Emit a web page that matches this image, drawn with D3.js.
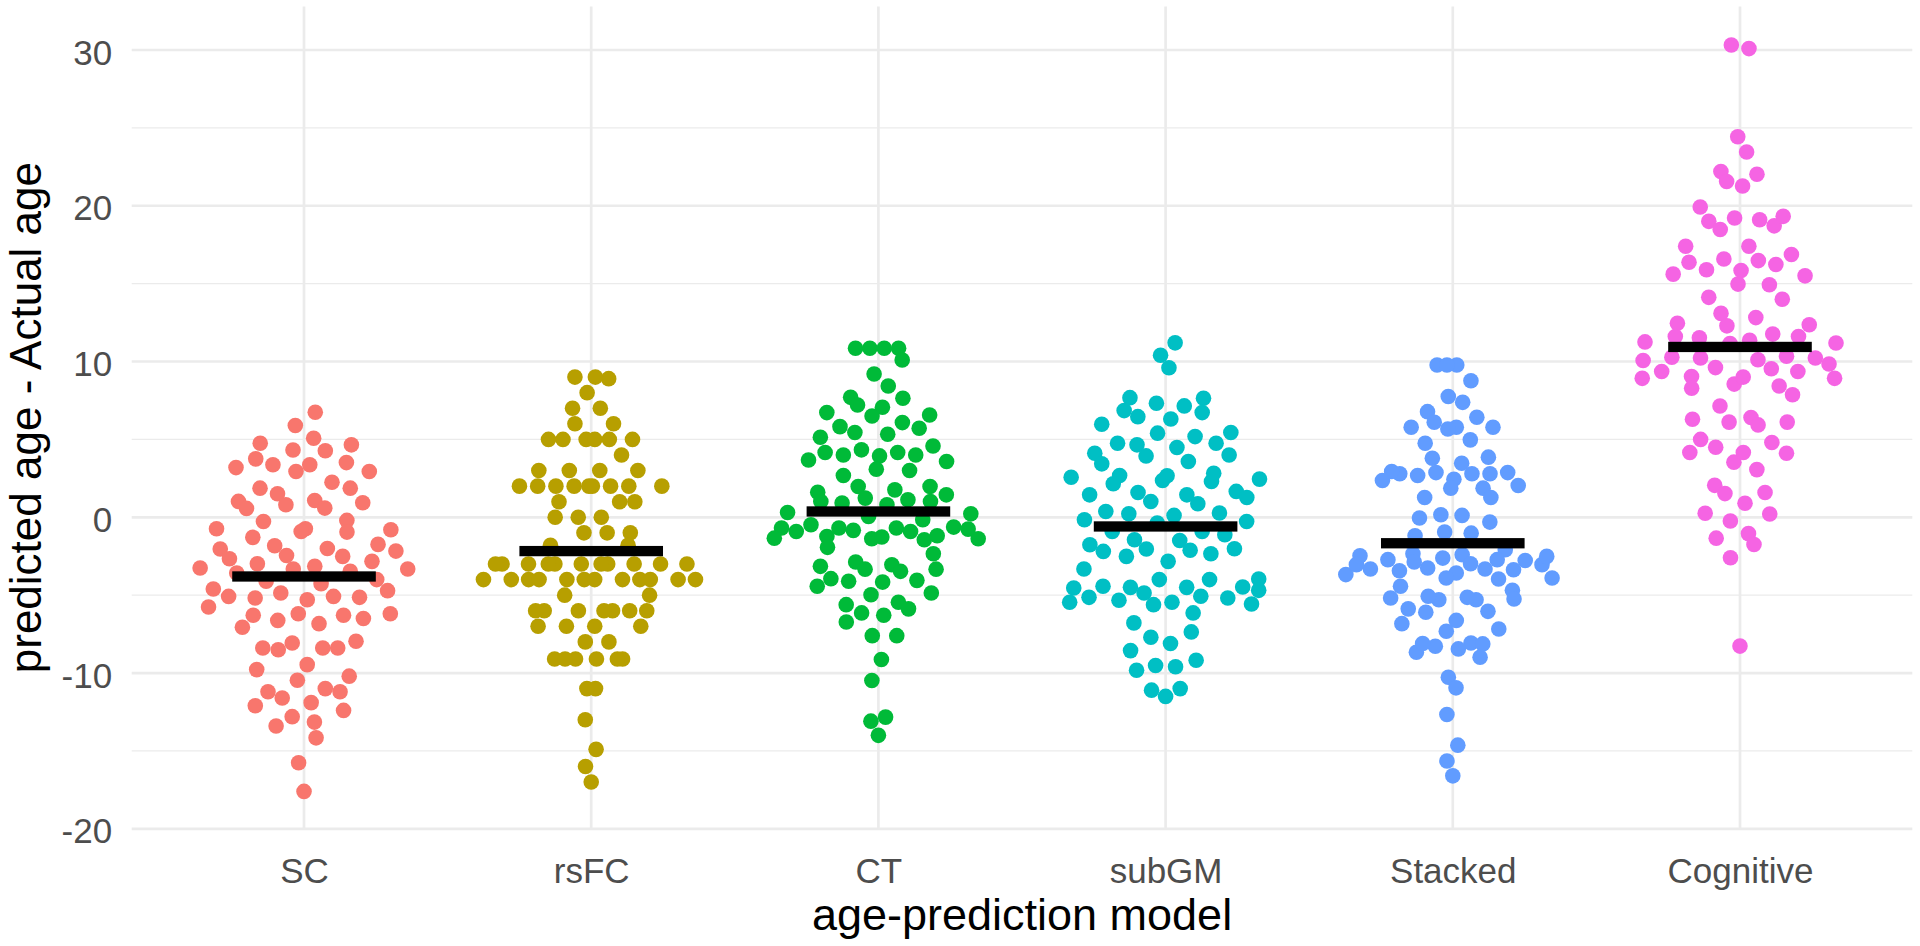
<!DOCTYPE html>
<html><head><meta charset="utf-8">
<script src="https://cdn.jsdelivr.net/npm/d3@7"></script>
<style>body{margin:0;background:#fff}svg{display:block}text{font-family:"Liberation Sans",Arial,sans-serif}</style>
</head><body><svg id="c" width="1920" height="946"></svg>
<script>
const categories = ["SC","rsFC","CT","subGM","Stacked","Cognitive"];
const colors = ["#F8766D","#B79F00","#00BA38","#00BFC4","#619CFF","#F564E3"];

const scValues = [6.74,5.89,5.07,4.75,4.65,4.32,4.27,3.75,3.37,3.37,3.51,3.19,2.94,2.94,2.25,1.87,1.87,1.51,1.02,0.80,1.08,0.93,0.59,0.57,-0.27,-0.20,-0.95,-0.74,-0.74,-0.91,-0.80,-1.29,-1.74,-2.04,-1.83,-2.0,-2.17,-2.66,-2.45,-2.51,-2.83,-2.98,-3.26,-3.32,-3.15,-3.32,-3.58,-3.47,-4.11,-4.26,-4.0,-4.6,-4.71,-5.08,-5.18,-4.86,-5.29,-5.08,-5.14,-5.76,-6.19,-6.29,-6.29,-6.5,-6.19,-6.62,-6.83,-7.06,-8.07,-8.39,-8.5,-8.39,-8.39,-7.96,-9.46,-9.78,-10.2,-10.46,-11.2,-11.0,-11.2,-11.6,-12.1,-11.9,-12.4,-12.8,-13.4,-13.15,-14.16,-15.76,-17.6];
const rsfcValues = [8.9,9.0,9.0,8.0,7.0,7.0,6.0,6.0,5.0,5.0,5.0,5.0,5.0,5.0,4.0,3.0,3.0,3.0,3.0,2.0,2.0,2.0,2.0,2.0,2.0,2.0,2.0,2.0,1.0,1.0,1.0,0.0,0.0,0.0,-1.0,-1.0,-1.0,-1.8,-1.8,-3.0,-3.0,-3.0,-3.0,-3.0,-3.0,-3.0,-3.0,-3.0,-3.0,-3.0,-4.0,-4.0,-4.0,-4.0,-4.0,-4.0,-4.0,-4.0,-4.0,-4.0,-4.0,-4.0,-5.0,-5.0,-6.0,-6.0,-6.0,-6.0,-6.0,-6.0,-6.0,-7.0,-7.0,-7.0,-7.0,-8.0,-8.0,-9.1,-9.1,-9.1,-9.1,-9.1,-9.1,-11.0,-11.0,-13.0,-14.9,-16.0,-17.0];
const ctValues = [10.85,10.85,10.85,10.85,10.1,9.2,8.43,7.7,7.64,7.21,7.06,6.72,6.5,6.57,6.08,5.82,5.44,5.72,5.33,5.14,4.58,4.16,4.0,4.33,3.94,4.16,4.0,3.68,3.58,3.09,3.0,2.68,1.98,1.23,1.76,1.98,1.61,1.44,1.01,0.91,0.8,1.12,1.01,0.31,0.22,0.05,-0.16,-0.69,-1.34,-0.91,-0.48,-1.23,-0.69,-0.91,-1.38,-1.27,-0.69,-0.84,-1.44,-1.19,-0.63,-0.76,-1.38,-1.93,-2.34,-3.15,-2.87,-3.33,-3.05,-3.47,-3.33,-3.94,-4.43,-4.16,-4.11,-4.05,-4.97,-4.86,-5.61,-5.46,-5.88,-6.14,-6.72,-6.29,-7.6,-7.6,-9.13,-10.48,-12.83,-13.09,-14.0];
const subgmValues = [11.2,10.4,9.6,7.64,7.68,7.32,7.15,6.85,6.46,6.72,6.31,5.97,5.4,5.18,5.44,4.75,4.65,4.48,4.75,4.11,3.94,3.58,4.0,3.43,2.57,2.68,2.15,2.36,2.66,2.83,2.3,2.45,1.44,1.59,1.01,1.44,0.87,1.66,1.27,0.37,0.22,0.12,0.27,-0.16,-0.27,-0.37,-0.91,-0.91,-1.12,-1.76,-2.19,-1.44,-2.04,-1.49,-2.12,-2.34,-2.02,-2.51,-2.83,-3.32,-4.0,-4.0,-4.54,-5.46,-5.14,-4.43,-5.33,-4.48,-4.86,-5.61,-5.46,-4.5,-5.07,-5.18,-4.5,-3.96,-4.69,-5.57,-6.14,-6.78,-7.36,-7.7,-8.1,-8.56,-9.18,-9.82,-9.52,-9.6,-11.1,-11.5,-11.0];
const stackedValues = [9.78,9.78,9.78,8.77,7.75,7.38,6.78,6.42,5.78,5.78,5.78,6.1,5.67,4.97,4.75,3.86,3.47,3.79,2.87,2.79,2.04,2.44,2.79,2.94,2.79,2.68,2.87,2.36,1.87,1.87,1.27,1.27,0.12,-0.05,0.16,-0.31,-1.02,-1.19,-0.95,-2.08,-2.4,-3.04,-3.68,-3.32,-2.77,-3.37,-2.72,-3.26,-2.62,-3.58,-3.9,-2.47,-2.98,-3.32,-2.72,-2.34,-3.43,-2.87,-3.96,-3.04,-2.51,-3.9,-4.43,-4.69,-5.29,-5.18,-5.14,-5.29,-5.07,-5.24,-5.88,-6.1,-6.04,-6.83,-6.62,-7.32,-7.17,-8.07,-8.67,-8.28,-8.45,-8.13,-8.1,-8.99,-10.27,-10.95,-12.66,-14.63,-15.65,-16.6];
const cognitiveValues = [30.32,30.09,24.43,23.45,22.2,21.56,22.02,21.27,19.92,19.0,18.48,19.21,19.1,18.71,19.32,17.4,16.37,15.61,15.89,16.58,17.4,16.48,16.23,16.87,15.5,15.84,14.97,14.93,14.12,14.0,13.09,12.29,12.82,12.45,11.6,11.53,11.15,11.37,11.76,11.6,12.36,11.26,11.19,10.07,8.92,9.36,10.28,10.23,9.61,10.11,9.54,10.34,9.36,10.23,9.84,8.92,9.04,8.28,8.55,9.0,8.43,7.87,7.14,6.29,6.11,6.41,5.93,6.11,5.0,4.16,4.5,3.54,4.16,4.8,4.11,3.06,2.05,1.52,1.59,0.9,0.26,-0.24,0.21,-1.34,-1.05,-1.75,-2.6,-8.27];

const yMajorTicks = [-20,-10,0,10,20,30];
const yMinorTicks = [-15,-5,5,15,25];
const xTitle = "age-prediction model";
const yTitle = "predicted age - Actual age";

const seriesValues = [scValues, rsfcValues, ctValues, subgmValues, stackedValues, cognitiveValues];

const panel = {left:131.7, right:1912.3, top:6.4, bottom:828.8};
const x = d3.scalePoint().domain(categories).range([panel.left, panel.right]).padding(0.6);
const y = d3.scaleLinear().domain([-20,30]).range([828.8,50]);
const step = x.step();

const svg = d3.select("#c");
svg.append("rect").attr("width",1920).attr("height",946).attr("fill","#fff");

const grid = svg.append("g");
grid.selectAll(".mi").data(yMinorTicks).join("line")
  .attr("x1",panel.left).attr("x2",panel.right)
  .attr("y1",d=>y(d)).attr("y2",d=>y(d))
  .attr("stroke","#EBEBEB").attr("stroke-width",1.4);
grid.selectAll(".ma").data(yMajorTicks).join("line")
  .attr("x1",panel.left).attr("x2",panel.right)
  .attr("y1",d=>y(d)).attr("y2",d=>y(d))
  .attr("stroke","#EBEBEB").attr("stroke-width",2.7);
grid.selectAll(".vx").data(categories).join("line")
  .attr("x1",d=>x(d)).attr("x2",d=>x(d))
  .attr("y1",panel.top).attr("y2",panel.bottom)
  .attr("stroke","#EBEBEB").attr("stroke-width",2.7);

function vdc(n){ let q=0, bk=0.5; while(n>0){ q += (n%2)*bk; n=Math.floor(n/2); bk/=2; } return q; }
function quasiOffsets(vals, width){
  const n = vals.length;
  const sorted = vals.slice().sort(d3.ascending);
  const sd = d3.deviation(vals);
  const iqr = d3.quantileSorted(sorted,0.75) - d3.quantileSorted(sorted,0.25);
  const lo = Math.min(sd, iqr/1.34);
  const bw = 0.9*lo*Math.pow(n,-0.2)*0.5;
  const kde = t => d3.sum(vals, v => Math.exp(-0.5*((t-v)/bw)**2));
  const g0 = sorted[0]-3*bw, g1 = sorted[n-1]+3*bw;
  const maxD = d3.max(d3.range(512), i => kde(g0 + i*(g1-g0)/511));
  const order = d3.range(n).sort((a,b) => (vals[a]-vals[b]) || (a-b));
  const rank = new Array(n);
  order.forEach((idx,r) => rank[idx] = r+1);
  return vals.map((v,i) => (vdc(rank[i])-0.5)*2*(kde(v)/maxD)*width);
}

const pts = svg.append("g");
categories.forEach((cat,ci) => {
  const vals = seriesValues[ci];
  const offs = quasiOffsets(vals, 0.4*step);
  pts.selectAll(null).data(vals.map((v,i)=>({v, o:offs[i]}))).join("circle")
    .attr("cx", d => x(cat)+d.o)
    .attr("cy", d => y(d.v))
    .attr("r", 7.8)
    .attr("fill", colors[ci]);
});

const bars = svg.append("g");
bars.selectAll("rect").data(categories).join("rect")
  .attr("x", d => x(d)-0.25*step)
  .attr("width", 0.5*step)
  .attr("y", (d,i) => y(d3.mean(seriesValues[i]))-5.15)
  .attr("height", 10.3)
  .attr("fill","#000");

const yAxis = svg.append("g").attr("transform",`translate(${panel.left},0)`)
  .call(d3.axisLeft(y).tickValues(yMajorTicks).tickSize(0).tickPadding(19.5).tickFormat(d => String(d)));
yAxis.select(".domain").remove();
yAxis.selectAll("text").attr("font-size",35).attr("fill","#4D4D4D").attr("dy","0.4em")
  .attr("font-family",'"Liberation Sans",Arial,sans-serif');

const xAxis = svg.append("g").attr("transform",`translate(0,${panel.bottom})`)
  .call(d3.axisBottom(x).tickSize(0).tickPadding(29.4));
xAxis.select(".domain").remove();
xAxis.selectAll("text").attr("font-size",35).attr("fill","#4D4D4D")
  .attr("font-family",'"Liberation Sans",Arial,sans-serif');

svg.append("text").attr("x",(panel.left+panel.right)/2).attr("y",930)
  .attr("text-anchor","middle").attr("font-size",45).attr("fill","#000").text(xTitle);
svg.append("text").attr("transform","rotate(-90)")
  .attr("x",-(panel.top+panel.bottom)/2).attr("y",41)
  .attr("text-anchor","middle").attr("font-size",44).attr("fill","#000").text(yTitle);
</script></body></html>
